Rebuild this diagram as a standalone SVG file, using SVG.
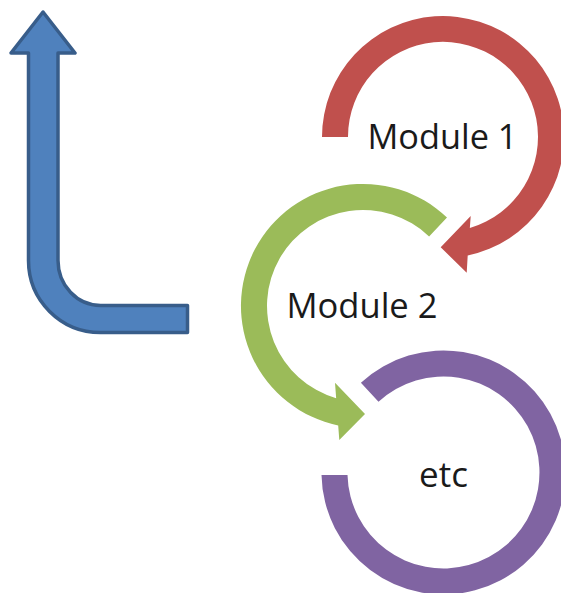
<svg xmlns="http://www.w3.org/2000/svg" width="561" height="593" viewBox="0 0 561 593">
  <style>
    .lbl { font-family: "Open Sans", "Liberation Sans", sans-serif; font-size: 35px; fill: #1a1a1a; text-anchor: middle; }
    .red { fill: #c0504d; }
    .green { fill: #9bbb59; }
    .purple { fill: #8064a2; }
    .blue { fill: #4f81bd; stroke: #385d8a; stroke-width: 3.5; stroke-linejoin: round; }
  </style>
  <rect width="561" height="593" fill="#ffffff"/>
  <g id="connectors">
    <path class="blue" d="M 43,12 L 75,53 L 58,53 L 58,260.5 A 42.5 45 0 0 0 100.5,305.5 L 187.5,305.5 L 187.5,332.5 L 100.5,332.5 A 72 72 0 0 1 28.5,260.5 L 28.5,53 L 11,53 Z"/>
  </g>
  <g id="module1">
    <path class="red" d="M 322,137 A 121 121 0 1 1 467.7,255.5 L 466.7,272.7 L 440.7,247.3 L 470.7,216 L 469.85,228 A 95 95 0 1 0 348,137 Z"/>
    <text class="lbl" x="442.5" y="149" textLength="150" lengthAdjust="spacingAndGlyphs">Module 1</text>
  </g>
  <g id="module2">
    <path class="green" d="M 447,217.5 A 122 122 0 1 0 338.2,425.4 L 339.3,440 L 365,414 L 335,382.7 L 336.16,398.2 A 96 96 0 1 1 429.1,236.4 Z"/>
    <text class="lbl" x="362" y="318" textLength="151" lengthAdjust="spacingAndGlyphs">Module 2</text>
  </g>
  <g id="etc">
    <path class="purple" d="M 360.9,382.7 A 122 122 0 1 1 321.5,475 L 347.5,475 A 96 96 0 1 0 378.5,401.8 Z"/>
    <text class="lbl" x="443.5" y="487">etc</text>
  </g>
</svg>
